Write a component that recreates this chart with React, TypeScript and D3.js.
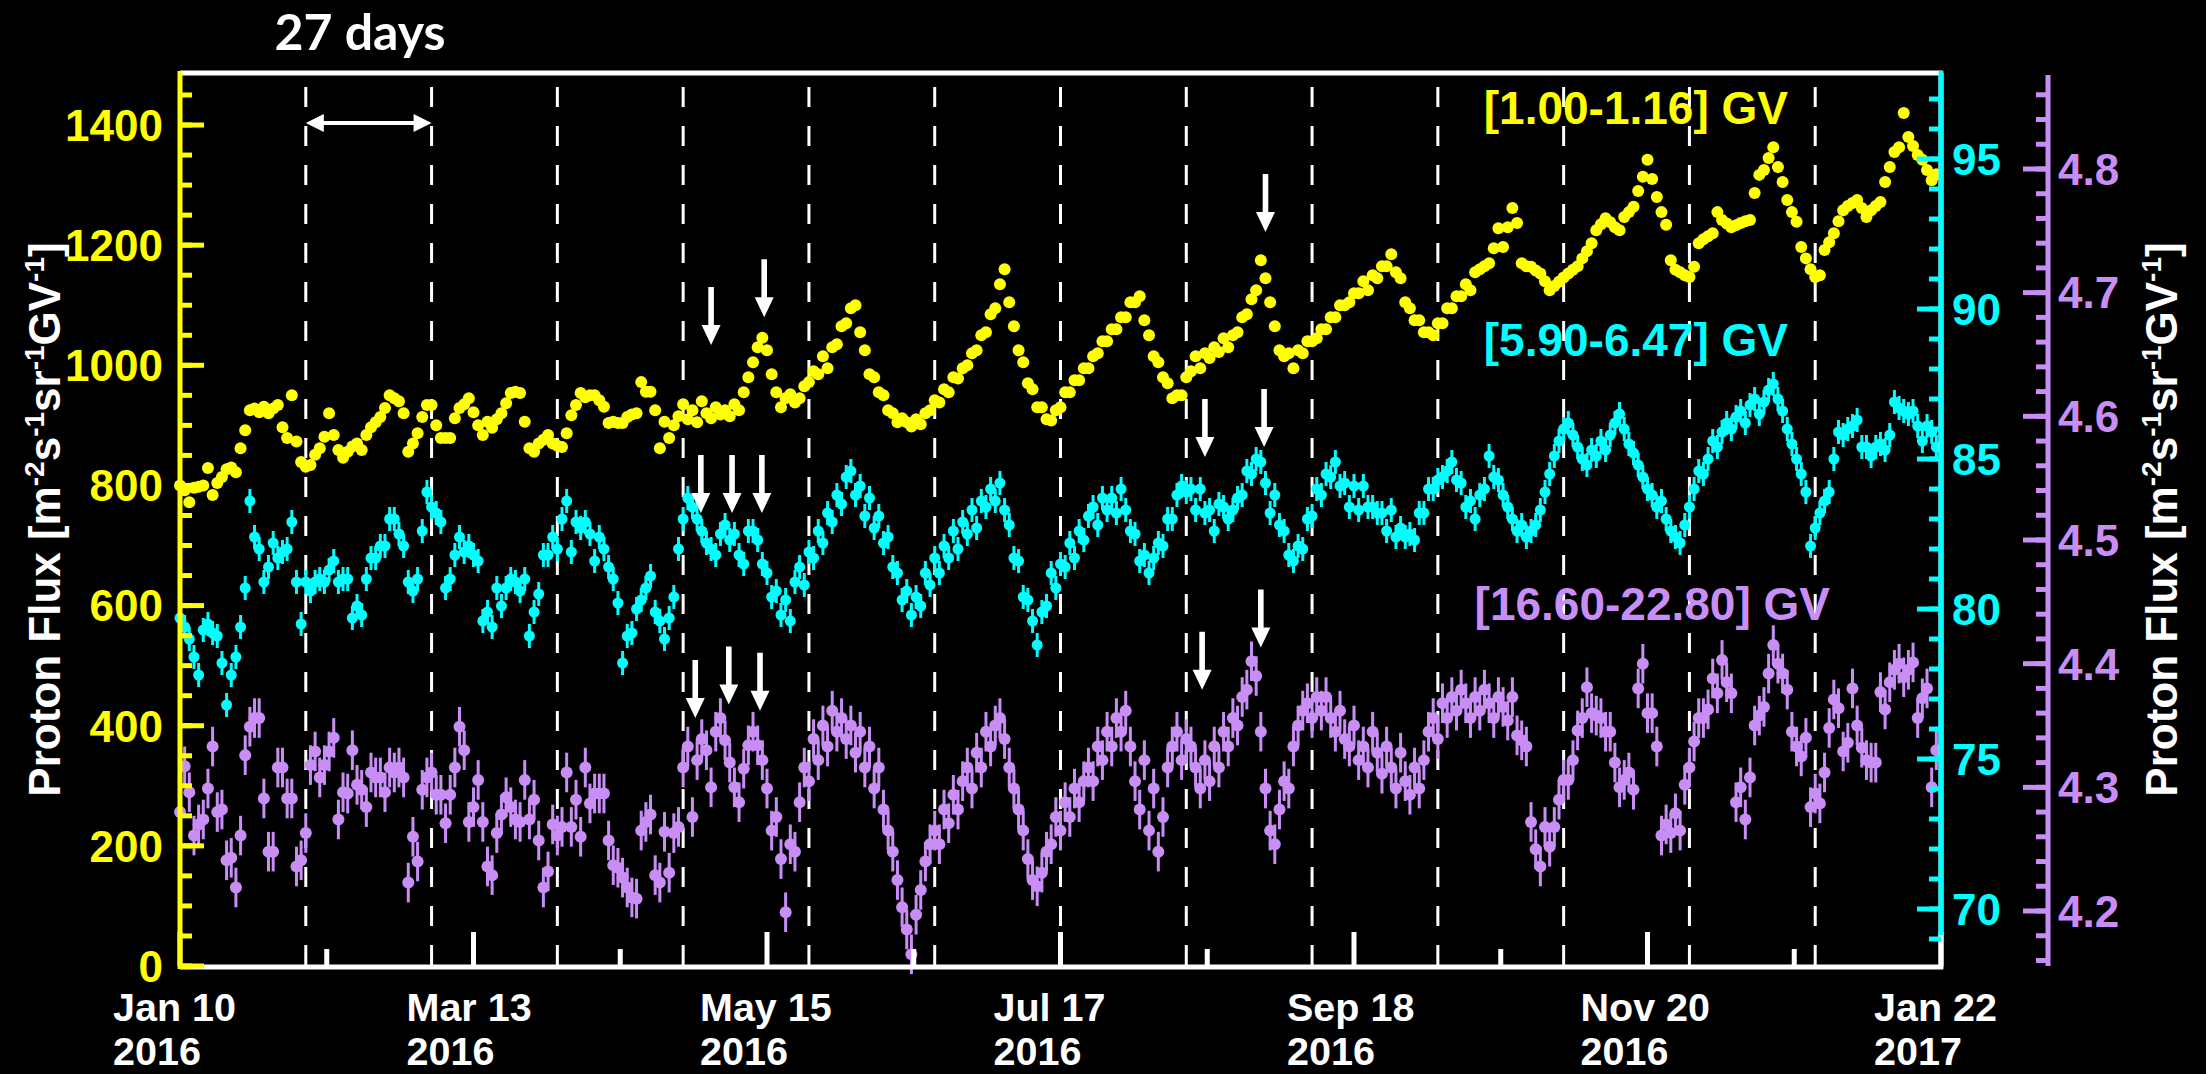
import React from "react";
import * as d3 from "d3";

// Daily proton flux, Jan 10 2016 (day 0) to Jan 22 2017 (day 378)
const START = new Date(Date.UTC(2016, 0, 10));
const SPAN_DAYS = 378;
const majorTickDays = [0, 63, 126, 189, 252, 315, 378];
const minorTickDays = [31.5, 94.5, 157.5, 220.5, 283.5, 346.5];
const rotationDays = [27, 54, 81, 108, 135, 162, 189, 216, 243, 270, 297, 324, 351];

const leftMajor = [0, 200, 400, 600, 800, 1000, 1200, 1400];
const midMajor = [70, 75, 80, 85, 90, 95];
const highMajor = [4.2, 4.3, 4.4, 4.5, 4.6, 4.7, 4.8];

// [1.00-1.16] GV, left axis units
const lowFlux = [
  800, 792, 772, 796, 798, 800, 829, 784, 804, 814,
  827, 830, 822, 862, 892, 925, 928, 922, 931, 920,
  928, 934, 897, 879, 950, 873, 839, 831, 834, 851,
  862, 881, 920, 884, 859, 846, 856, 865, 870, 859,
  884, 897, 905, 914, 929, 950, 945, 940, 920, 856,
  870, 887, 914, 934, 934, 900, 879, 879, 879, 912,
  929, 935, 945, 922, 900, 884, 906, 896, 910, 920,
  937, 954, 956, 954, 906, 862, 856, 870, 876, 884,
  870, 866, 864, 887, 917, 934, 954, 947, 950, 950,
  942, 931, 904, 906, 904, 904, 914, 918, 920, 972,
  956, 956, 925, 862, 906, 879, 900, 915, 935, 910,
  925, 905, 940, 920, 912, 930, 918, 925, 915, 935,
  925, 955, 980, 1005, 1030, 1046, 1025, 985, 955, 930,
  945, 952, 938, 945, 965, 972, 990, 985, 1015, 995,
  1030, 1035, 1065, 1070, 1095, 1100, 1055, 1025, 985, 980,
  955, 950, 925, 920, 905, 912, 905, 898, 910, 902,
  920, 925, 942, 938, 960, 955, 980, 978, 995, 1000,
  1020, 1025, 1050, 1055, 1085, 1095, 1135, 1160, 1105, 1065,
  1025, 1005, 970, 960, 930, 930, 910, 908, 925, 930,
  955, 955, 975, 975, 995, 995, 1015, 1020, 1040, 1040,
  1060, 1060, 1080, 1080, 1105, 1105, 1115, 1075, 1050, 1015,
  1005, 980, 970, 945, 950, 950, 980, 990, 1015, 995,
  1020, 1012, 1030, 1022, 1045, 1030, 1050, 1055, 1080, 1085,
  1110, 1125, 1175, 1145, 1105, 1065, 1025, 1015, 1020, 995,
  1025, 1020, 1040, 1040, 1045, 1060, 1060, 1080, 1080, 1100,
  1100, 1105, 1120, 1120, 1140, 1125, 1150, 1145, 1165, 1165,
  1185, 1155, 1145, 1105, 1095, 1075, 1075, 1055, 1055, 1050,
  1070, 1070, 1095, 1095, 1115, 1115, 1135, 1125, 1155, 1160,
  1165, 1170, 1195, 1228, 1197, 1230, 1262, 1237, 1170, 1165,
  1164, 1158, 1153, 1140, 1125, 1132, 1139, 1146, 1153, 1159,
  1165, 1178, 1190, 1203, 1225, 1235, 1245, 1238, 1230, 1225,
  1247, 1255, 1264, 1290, 1314, 1342, 1310, 1280, 1255, 1234,
  1175, 1159, 1155, 1150, 1147, 1164, 1203, 1210, 1215, 1220,
  1255, 1242, 1236, 1230, 1233, 1237, 1240, 1242, 1287, 1317,
  1325, 1345, 1363, 1330, 1305, 1275, 1255, 1239, 1197, 1178,
  1160, 1147, 1150, 1192, 1205, 1220, 1240, 1258, 1265, 1270,
  1275, 1262, 1247, 1258, 1265, 1272, 1305, 1330, 1355, 1363,
  1420, 1380, 1365, 1350, 1342, 1325, 1308, 1318,
];

// [5.90-6.47] GV, cyan axis units
const midFlux = [
  79.7, 79.4, 79.0, 78.4, 77.8, 79.3, 79.5, 79.2, 79.1, 78.2,
  76.8, 77.8, 78.4, 79.4, 80.7, 83.6, 82.4, 82.0, 80.9, 81.4,
  82.2, 81.7, 81.9, 82.0, 82.9, 80.9, 79.5, 80.9, 80.6, 80.9,
  81.0, 80.9, 81.3, 81.6, 80.9, 81.0, 81.0, 79.7, 80.1, 79.8,
  81.0, 81.7, 81.7, 82.1, 82.1, 83.0, 83.0, 82.5, 82.1, 80.9,
  80.6, 81.0, 82.6, 83.9, 83.4, 83.2, 82.9, 80.7, 81.0, 81.8,
  82.4, 81.9, 82.1, 81.8, 81.6, 79.6, 79.9, 79.4, 80.7, 80.1,
  80.7, 81.0, 80.9, 80.6, 81.0, 79.1, 79.9, 80.5, 81.8, 81.8,
  82.4, 82.0, 83.0, 83.6, 81.9, 82.9, 82.7, 82.9, 82.5, 81.6,
  82.4, 82.0, 81.4, 81.0, 80.2, 78.2, 79.1, 79.2, 80.0, 80.3,
  80.7, 81.1, 79.9, 79.6, 79.0, 79.7, 80.4, 82.0, 83.0, 83.7,
  83.4, 83.0, 82.6, 82.2, 82.0, 81.8, 82.5, 82.8, 82.3, 82.5,
  81.8, 81.5, 82.6, 82.6, 82.3, 81.5, 81.2, 80.4, 80.6, 79.8,
  80.3, 79.6, 80.9, 81.4, 80.8, 81.9, 81.7, 82.6, 82.2, 83.2,
  82.9, 83.8, 83.5, 84.4, 84.6, 83.8, 84.1, 83.1, 83.7, 82.7,
  83.1, 82.2, 82.4, 81.4, 81.2, 80.3, 80.6, 79.8, 80.4, 80.1,
  81.2, 80.8, 81.7, 81.2, 82.1, 81.7, 82.6, 82.0, 82.9, 82.5,
  83.3, 82.7, 83.6, 83.4, 84.0, 83.6, 84.2, 83.3, 82.8, 81.7,
  81.6, 80.4, 80.3, 79.6, 78.8, 79.9, 80.1, 81.2, 80.7, 81.5,
  81.4, 82.2, 81.7, 82.6, 82.3, 83.1, 83.4, 82.8, 83.7, 83.3,
  83.7, 83.2, 84.0, 83.3, 82.6, 82.5, 81.6, 81.8, 81.2, 81.7,
  82.2, 82.1, 83.0, 83.0, 83.8, 84.1, 83.9, 84.0, 83.3, 84.0,
  83.2, 83.3, 82.6, 83.5, 83.4, 83.0, 83.3, 83.7, 83.8, 84.6,
  84.5, 85.0, 84.9, 84.2, 83.2, 83.8, 82.8, 82.6, 81.8, 81.6,
  82.1, 82.0, 83.0, 83.1, 84.0, 83.8, 84.5, 84.4, 84.9, 84.1,
  84.2, 83.4, 84.1, 83.3, 84.1, 83.4, 83.4, 83.2, 83.2, 82.6,
  83.3, 82.4, 82.7, 82.4, 82.5, 82.3, 83.2, 83.2, 84.0, 84.0,
  84.3, 84.4, 84.6, 84.9, 84.3, 84.2, 83.4, 83.6, 83.0, 83.8,
  84.0, 85.1, 84.4, 84.3, 83.8, 83.4, 83.0, 82.6, 82.8, 82.4,
  82.6, 82.8, 83.3, 83.9, 84.5, 85.1, 85.6, 86.0, 86.2, 85.8,
  85.4, 85.0, 84.8, 85.3, 85.1, 85.6, 85.3, 85.8, 86.2, 86.5,
  86.0, 85.5, 85.2, 84.8, 84.4, 84.0, 83.8, 83.4, 83.6, 83.0,
  82.6, 82.4, 82.2, 82.8, 83.4, 84.0, 84.6, 84.5, 85.0, 85.6,
  85.4, 85.9, 86.2, 86.0, 86.4, 86.6, 86.2, 86.8, 87.0, 86.5,
  86.9, 87.3, 87.5, 87.0, 86.6, 86.0, 85.5, 85.0, 84.5, 83.9,
  82.1, 82.7, 83.2, 83.6, 83.9, 85.0, 85.9, 85.8, 86.0, 86.1,
  86.3, 85.4, 85.4, 85.1, 85.4, 85.5, 85.3, 85.8, 86.9, 86.7,
  86.6, 86.5, 86.6, 86.1, 85.6, 86.1, 85.9, 85.4,
];

// [16.60-22.80] GV, purple axis units
const highFlux = [
  4.280, 4.317, 4.296, 4.261, 4.270, 4.274, 4.299, 4.333, 4.280, 4.282,
  4.241, 4.243, 4.219, 4.261, 4.326, 4.349, 4.356, 4.356, 4.291, 4.248,
  4.248, 4.316, 4.316, 4.291, 4.291, 4.236, 4.241, 4.263, 4.318, 4.329,
  4.308, 4.318, 4.329, 4.340, 4.274, 4.296, 4.295, 4.330, 4.302, 4.298,
  4.284, 4.312, 4.308, 4.308, 4.296, 4.316, 4.312, 4.316, 4.308, 4.223,
  4.260, 4.240, 4.298, 4.308, 4.312, 4.294, 4.294, 4.271, 4.294, 4.316,
  4.349, 4.330, 4.272, 4.284, 4.306, 4.272, 4.236, 4.229, 4.263, 4.278,
  4.292, 4.284, 4.274, 4.272, 4.306, 4.274, 4.290, 4.257, 4.219, 4.232,
  4.270, 4.261, 4.268, 4.312, 4.268, 4.290, 4.260, 4.316, 4.287, 4.295,
  4.295, 4.295, 4.257, 4.237, 4.235, 4.227, 4.219, 4.211, 4.210, 4.265,
  4.272, 4.278, 4.229, 4.223, 4.264, 4.231, 4.263, 4.268, 4.316, 4.333,
  4.276, 4.322, 4.339, 4.330, 4.300, 4.345, 4.356, 4.338, 4.320, 4.300,
  4.288, 4.315, 4.334, 4.345, 4.334, 4.322, 4.299, 4.265, 4.276, 4.242,
  4.199, 4.254, 4.248, 4.288, 4.316, 4.305, 4.339, 4.322, 4.350, 4.333,
  4.362, 4.345, 4.356, 4.339, 4.350, 4.328, 4.345, 4.316, 4.333, 4.299,
  4.316, 4.282, 4.265, 4.248, 4.225, 4.203, 4.185, 4.165, 4.197, 4.217,
  4.240, 4.254, 4.265, 4.254, 4.282, 4.271, 4.294, 4.282, 4.305, 4.316,
  4.299, 4.328, 4.316, 4.345, 4.333, 4.350, 4.356, 4.339, 4.316, 4.299,
  4.282, 4.265, 4.242, 4.225, 4.220, 4.231, 4.248, 4.254, 4.276, 4.265,
  4.288, 4.276, 4.299, 4.288, 4.305, 4.316, 4.305, 4.333, 4.322, 4.345,
  4.333, 4.356, 4.345, 4.362, 4.333, 4.305, 4.282, 4.322, 4.265, 4.299,
  4.248, 4.276, 4.316, 4.333, 4.345, 4.322, 4.339, 4.333, 4.316, 4.299,
  4.322, 4.305, 4.333, 4.316, 4.345, 4.333, 4.356, 4.350, 4.373, 4.379,
  4.402, 4.390, 4.345, 4.299, 4.265, 4.254, 4.282, 4.305, 4.299, 4.333,
  4.350, 4.362, 4.368, 4.356, 4.373, 4.362, 4.373, 4.356, 4.345, 4.362,
  4.339, 4.333, 4.350, 4.322, 4.333, 4.316, 4.345, 4.328, 4.311, 4.333,
  4.316, 4.299, 4.328, 4.305, 4.294, 4.316, 4.299, 4.322, 4.345, 4.356,
  4.339, 4.368, 4.356, 4.373, 4.362, 4.379, 4.368, 4.356, 4.373, 4.362,
  4.379, 4.368, 4.356, 4.373, 4.365, 4.354, 4.373, 4.342, 4.338, 4.333,
  4.272, 4.250, 4.236, 4.268, 4.252, 4.268, 4.290, 4.306, 4.306, 4.322,
  4.346, 4.356, 4.381, 4.360, 4.358, 4.356, 4.345, 4.345, 4.320, 4.300,
  4.306, 4.312, 4.298, 4.380, 4.400, 4.360, 4.360, 4.333, 4.261, 4.270,
  4.263, 4.279, 4.265, 4.302, 4.316, 4.337, 4.356, 4.356, 4.363, 4.388,
  4.376, 4.403, 4.385, 4.376, 4.288, 4.300, 4.274, 4.308, 4.350, 4.358,
  4.365, 4.392, 4.415, 4.400, 4.392, 4.379, 4.345, 4.333, 4.325, 4.340,
  4.284, 4.295, 4.287, 4.312, 4.348, 4.371, 4.364, 4.329, 4.336, 4.380,
  4.350, 4.332, 4.322, 4.320, 4.320, 4.377, 4.363, 4.385, 4.395, 4.400,
  4.389, 4.395, 4.401, 4.356, 4.372, 4.380, 4.300, 4.330,
];

const midErr = 0.4;
const highErr = 0.016;

// Event markers: day and arrow tip value (in each series' own units)
const lowArrowDays = [114, 125.4, 233];
const lowArrowTips = [1034, 1080, 1222];
const midArrowDays = [111.8, 118.5, 124.9, 220, 232.7];
const midArrowTips = [83.2, 83.2, 83.2, 85.07, 85.4];
const highArrowDays = [110.6, 117.8, 124.5, 219.4, 232];
const highArrowTips = [4.356, 4.367, 4.362, 4.379, 4.413];

const W = 2206;
const H = 1074;
const L = 180;
const R = 1941;
const T = 73;
const B = 966;
const RIGHT2 = 2048;

const YELLOW = "#ffff00";
const CYAN = "#00ffff";
const PURPLE = "#c98ef6";
const WHITE = "#ffffff";
const FONT = "'Liberation Sans', Arial, Helvetica, sans-serif";

const x = d3.scaleLinear().domain([0, SPAN_DAYS]).range([L, R]);
const yLow = d3.scaleLinear().domain([0, 1486.6]).range([B, T]);
const yMid = d3.scaleLinear().domain([68.1, 97.867]).range([B, T]);
const yHigh = d3.scaleLinear().domain([4.15553, 4.87761]).range([B, T]);

const fmtMD = d3.utcFormat("%b %-d");
const fmtY = d3.utcFormat("%Y");

function DownArrow({ cx, tipY }: { cx: number; tipY: number }) {
  const len = 58, head = 20, half = 9.5, s = 2.8;
  const d = `M${cx - s},${tipY - len}L${cx + s},${tipY - len}L${cx + s},${tipY - head}L${cx + half},${tipY - head}L${cx},${tipY}L${cx - half},${tipY - head}L${cx - s},${tipY - head}Z`;
  return <path d={d} fill={WHITE} />;
}

function Title({ cx }: { cx: number }) {
  const sup = { fontSize: 28 } as const;
  return (
    <text
      transform={`translate(${cx},${(T + B) / 2}) rotate(-90)`}
      textAnchor="middle"
      fill={WHITE}
      fontFamily={FONT}
      fontWeight="bold"
      fontSize={44}
    >
      Proton Flux [m
      <tspan dy={-16} style={sup}>-2</tspan>
      <tspan dy={16}>s</tspan>
      <tspan dy={-16} style={sup}>-1</tspan>
      <tspan dy={16}>sr</tspan>
      <tspan dy={-16} style={sup}>-1</tspan>
      <tspan dy={16}>GV</tspan>
      <tspan dy={-16} style={sup}>-1</tspan>
      <tspan dy={16}>]</tspan>
    </text>
  );
}

export default function App() {
  const leftMinor = d3.range(0, 1451, 50);
  const midMinor = d3.range(69, 98, 1);
  const highMinor = d3.range(0, 36).map((i) => 4.16 + i * 0.02);

  return (
    <svg
      width={W}
      height={H}
      style={{ position: "absolute", left: 0, top: 0, display: "block" }}
    >
      <rect x={0} y={0} width={W} height={H} fill="#000" />

      {/* solar rotation markers */}
      {rotationDays.map((d) => (
        <line key={d} x1={x(d)} x2={x(d)} y1={87} y2={B} stroke={WHITE} strokeWidth={3} strokeDasharray="20 19" />
      ))}

      {/* 27-day span */}
      <g>
        <line x1={x(27) + 14} x2={x(54) - 14} y1={123} y2={123} stroke={WHITE} strokeWidth={4} />
        <path d={`M${x(27)},123L${x(27) + 18},114L${x(27) + 18},132Z`} fill={WHITE} />
        <path d={`M${x(54)},123L${x(54) - 18},114L${x(54) - 18},132Z`} fill={WHITE} />
        <text x={360} y={50} textAnchor="middle" fill={WHITE} fontFamily="Lato, 'Open Sans', sans-serif" fontWeight="bold" fontSize={50}>
          27 days
        </text>
      </g>

      {/* high rigidity series */}
      <g>
        {highFlux.map((v, i) =>
          v == null ? null : (
            <g key={i}>
              <line x1={x(i)} x2={x(i)} y1={yHigh(v - highErr)} y2={yHigh(v + highErr)} stroke={PURPLE} strokeWidth={3} />
              <circle cx={x(i)} cy={yHigh(v)} r={6} fill={PURPLE} />
            </g>
          )
        )}
      </g>

      {/* mid rigidity series */}
      <g>
        {midFlux.map((v, i) =>
          v == null ? null : (
            <g key={i}>
              <line x1={x(i)} x2={x(i)} y1={yMid(v - midErr)} y2={yMid(v + midErr)} stroke={CYAN} strokeWidth={3} />
              <circle cx={x(i)} cy={yMid(v)} r={5.5} fill={CYAN} />
            </g>
          )
        )}
      </g>

      {/* low rigidity series */}
      <g>
        {lowFlux.map((v, i) =>
          v == null ? null : <circle key={i} cx={x(i)} cy={yLow(v)} r={6} fill={YELLOW} />
        )}
      </g>

      {/* frame: top and bottom */}
      <line x1={L} x2={R + 2} y1={T} y2={T} stroke={WHITE} strokeWidth={5} />
      <line x1={L} x2={R + 2} y1={B + 1} y2={B + 1} stroke={WHITE} strokeWidth={5} />
      <line x1={R} x2={R} y1={T} y2={B + 3} stroke={WHITE} strokeWidth={5} />

      {/* time axis ticks */}
      {majorTickDays.map((d) => (
        <line key={`M${d}`} x1={x(d)} x2={x(d)} y1={B} y2={B - 34} stroke={WHITE} strokeWidth={5} />
      ))}
      {minorTickDays.map((d) => (
        <line key={`m${d}`} x1={x(d)} x2={x(d)} y1={B} y2={B - 17} stroke={WHITE} strokeWidth={5} />
      ))}
      {majorTickDays.map((d) => {
        const date = d3.utcDay.offset(START, d);
        return (
          <g key={`t${d}`}>
            <text x={x(d) - 67} y={1021} fill={WHITE} fontFamily={FONT} fontWeight="bold" fontSize={39.5}>
              {fmtMD(date)}
            </text>
            <text x={x(d) - 67} y={1065} fill={WHITE} fontFamily={FONT} fontWeight="bold" fontSize={39.5}>
              {fmtY(date)}
            </text>
          </g>
        );
      })}

      {/* left axis */}
      <line x1={L} x2={L} y1={T - 2} y2={B + 3} stroke={YELLOW} strokeWidth={5} />
      {leftMinor.map((v) => (
        <line key={`lm${v}`} x1={L} x2={L + 12} y1={yLow(v)} y2={yLow(v)} stroke={YELLOW} strokeWidth={5} />
      ))}
      {leftMajor.map((v) => (
        <g key={`lM${v}`}>
          <line x1={L} x2={L + 24} y1={yLow(v)} y2={yLow(v)} stroke={YELLOW} strokeWidth={5} />
          <text x={163} y={yLow(v)} dy="0.36em" textAnchor="end" fill={YELLOW} fontFamily={FONT} fontWeight="bold" fontSize={44}>
            {v}
          </text>
        </g>
      ))}

      {/* mid rigidity axis */}
      <line x1={R} x2={R} y1={T - 2} y2={935} stroke={CYAN} strokeWidth={5} />
      {midMinor.map((v) => (
        <line key={`mm${v}`} x1={R - 12} x2={R} y1={yMid(v)} y2={yMid(v)} stroke={CYAN} strokeWidth={5} />
      ))}
      {midMajor.map((v) => (
        <g key={`mM${v}`}>
          <line x1={R - 24} x2={R} y1={yMid(v)} y2={yMid(v)} stroke={CYAN} strokeWidth={5} />
          <text x={1952} y={yMid(v)} dy="0.36em" fill={CYAN} fontFamily={FONT} fontWeight="bold" fontSize={44}>
            {v}
          </text>
        </g>
      ))}

      {/* high rigidity axis */}
      <line x1={RIGHT2} x2={RIGHT2} y1={75} y2={B} stroke={PURPLE} strokeWidth={5} />
      {highMinor.map((v) => (
        <line key={`hm${v.toFixed(2)}`} x1={RIGHT2 - 12} x2={RIGHT2} y1={yHigh(v)} y2={yHigh(v)} stroke={PURPLE} strokeWidth={5} />
      ))}
      {highMajor.map((v) => (
        <g key={`hM${v}`}>
          <line x1={RIGHT2 - 25} x2={RIGHT2} y1={yHigh(v)} y2={yHigh(v)} stroke={PURPLE} strokeWidth={5} />
          <text x={2058} y={yHigh(v)} dy="0.36em" fill={PURPLE} fontFamily={FONT} fontWeight="bold" fontSize={44}>
            {v.toFixed(1)}
          </text>
        </g>
      ))}

      <Title cx={60} />
      <Title cx={2177} />

      {/* series labels */}
      <text x={1788} y={124} textAnchor="end" fill={YELLOW} fontFamily={FONT} fontWeight="bold" fontSize={46}>
        [1.00-1.16] GV
      </text>
      <text x={1788} y={356} textAnchor="end" fill={CYAN} fontFamily={FONT} fontWeight="bold" fontSize={46}>
        [5.90-6.47] GV
      </text>
      <text x={1830} y={620} textAnchor="end" fill={PURPLE} fontFamily={FONT} fontWeight="bold" fontSize={46}>
        [16.60-22.80] GV
      </text>

      {/* event arrows */}
      {lowArrowDays.map((d, i) => (
        <DownArrow key={`la${i}`} cx={x(d)} tipY={yLow(lowArrowTips[i])} />
      ))}
      {midArrowDays.map((d, i) => (
        <DownArrow key={`ma${i}`} cx={x(d)} tipY={yMid(midArrowTips[i])} />
      ))}
      {highArrowDays.map((d, i) => (
        <DownArrow key={`ha${i}`} cx={x(d)} tipY={yHigh(highArrowTips[i])} />
      ))}
    </svg>
  );
}
